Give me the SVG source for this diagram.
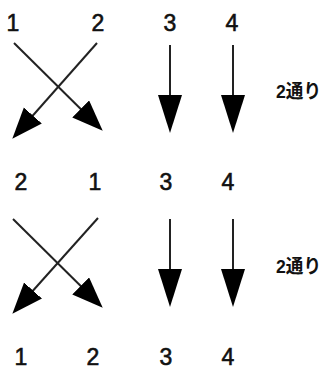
<svg xmlns="http://www.w3.org/2000/svg" width="327" height="369" viewBox="0 0 327 369">
  <style>
    .num { font-family: "Liberation Sans", Arial, sans-serif; font-size: 23px; fill: #111; stroke: #111; stroke-width: 0.6; text-anchor: middle; }
    .note { font-family: "Liberation Sans", "Noto Sans CJK JP", sans-serif; font-size: 19px; font-weight: bold; fill: #111; }
    .edge { stroke: #222; stroke-width: 2; fill: none; }
  </style>
  <defs>
    <!-- wide head for the crossing arrows -->
    <marker id="headX" markerUnits="userSpaceOnUse" markerWidth="32" markerHeight="26" refX="20" refY="12" orient="auto">
      <path d="M0,0 L31,12 L0,24 Z" fill="#000"/>
    </marker>
    <!-- long head for the straight arrows -->
    <marker id="headV" markerUnits="userSpaceOnUse" markerWidth="40" markerHeight="26" refX="28" refY="12" orient="auto">
      <path d="M0,0 L38,12 L0,24 Z" fill="#000"/>
    </marker>
  </defs>

  <g id="connectors">
    <!-- upper block -->
    <line class="edge" x1="14" y1="43" x2="94.9" y2="123" marker-end="url(#headX)"/>
    <line class="edge" x1="97" y1="43" x2="19.6" y2="130.5" marker-end="url(#headX)"/>
    <line class="edge" x1="170" y1="45" x2="170" y2="123" marker-end="url(#headV)"/>
    <line class="edge" x1="233" y1="45" x2="233" y2="123" marker-end="url(#headV)"/>
    <!-- lower block -->
    <line class="edge" x1="13" y1="219" x2="94.9" y2="300" marker-end="url(#headX)"/>
    <line class="edge" x1="98" y1="218" x2="19.7" y2="305.5" marker-end="url(#headX)"/>
    <line class="edge" x1="170" y1="219" x2="170" y2="297" marker-end="url(#headV)"/>
    <line class="edge" x1="233" y1="219" x2="233" y2="297" marker-end="url(#headV)"/>
  </g>

  <g id="row-top">
    <text class="num" x="13" y="31">1</text>
    <text class="num" x="98" y="31">2</text>
    <text class="num" x="170" y="31">3</text>
    <text class="num" x="232" y="31">4</text>
  </g>
  <g id="row-middle">
    <text class="num" x="21" y="190">2</text>
    <text class="num" x="95" y="190">1</text>
    <text class="num" x="166" y="190">3</text>
    <text class="num" x="228" y="190">4</text>
  </g>
  <g id="row-bottom">
    <text class="num" x="21" y="365">1</text>
    <text class="num" x="93" y="365">2</text>
    <text class="num" x="166" y="365">3</text>
    <text class="num" x="228" y="365">4</text>
  </g>
  <g id="note-top">
    <text class="note" x="276" y="98" textLength="45" lengthAdjust="spacingAndGlyphs">2通り</text>
  </g>
  <g id="note-bottom">
    <text class="note" x="276" y="273" textLength="45" lengthAdjust="spacingAndGlyphs">2通り</text>
  </g>
</svg>
